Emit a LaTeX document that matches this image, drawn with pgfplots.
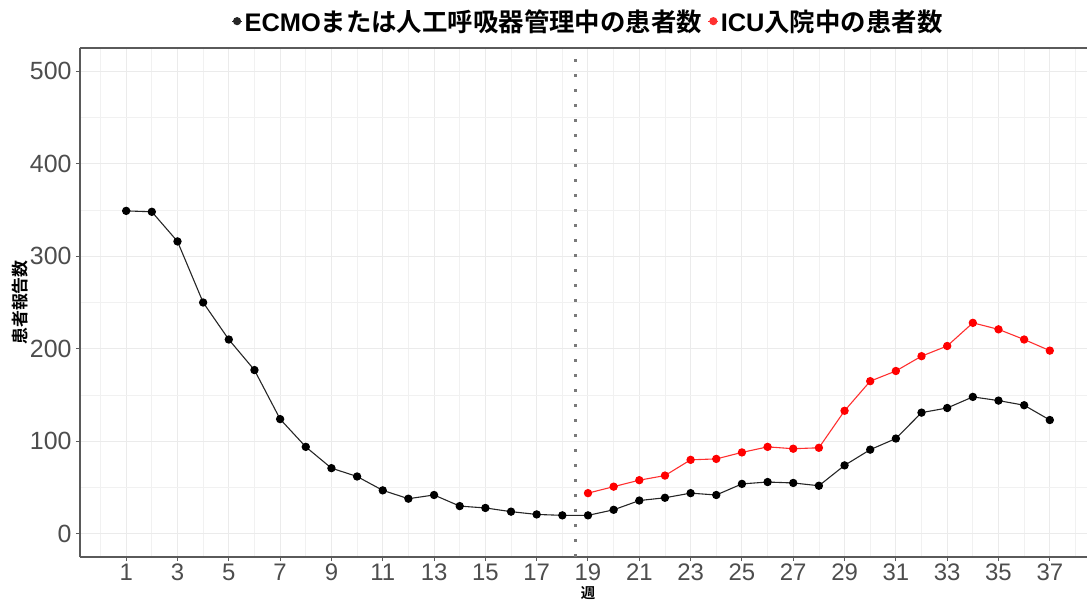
\documentclass[border=0pt]{standalone}
\usepackage{fontspec}
\setmainfont{Liberation Sans}
\newfontfamily\jpb{Noto Sans CJK JP Bold}
\usepackage{pgfplots}
\pgfplotsset{compat=1.18}
\definecolor{tickgrey}{HTML}{4D4D4D}
\definecolor{gridgrey}{HTML}{EBEBEB}
\definecolor{axisgrey}{HTML}{5A5A5A}
\definecolor{vgrey}{HTML}{7A7A7A}
\definecolor{lred}{HTML}{FF3030}
\begin{document}
\begin{tikzpicture}
\useasboundingbox (-80bp,-43bp) rectangle (1007bp,557bp);
\begin{axis}[
  at={(0,0)}, anchor=south west, scale only axis,
  width=1016bp, height=509bp,
  xmin=-0.8, xmax=38.8, ymin=-25, ymax=525,
  axis x line*=box, axis y line*=left,
  axis line style={axisgrey, line width=1.2bp},
  xtick={1,3,...,37}, minor xtick={0,2,...,38},
  ytick={0,100,...,500}, minor ytick={50,150,...,450},
  xtick pos=bottom, ytick pos=left,
  tick align=outside, major tick length=4bp, minor tick length=0bp,
  tick style={axisgrey, line width=1bp},
  grid=both,
  major grid style={gridgrey, line width=1bp},
  minor grid style={gridgrey!70, line width=0.7bp},
  tick label style={font=\fontsize{25}{25}\selectfont, color=tickgrey},
  /pgf/number format/assume math mode=true,
  xticklabel style={inner sep=0.5bp, text depth=0bp, yshift=-2.5bp, font=\fontsize{24}{24}\selectfont},
  yticklabel style={xshift=-1bp},
  xlabel={\jpb 週},
  ylabel={\jpb 患者報告数},
  label style={font=\fontsize{17}{17}\selectfont},
  xlabel style={at={(axis description cs:0.5,0)}, anchor=center, inner sep=0bp, yshift=-36bp, font=\fontsize{14.5}{14.5}\selectfont},
  ylabel style={at={(axis description cs:0,0.5)}, anchor=center, yshift=60bp},
  legend style={at={(0.5,1)}, anchor=south, yshift=13bp, draw=none, fill=none,
    legend columns=2, font=\fontsize{25.5}{25.5}\selectfont,
    /tikz/every even column/.append style={column sep=4bp},
    inner sep=0bp},
  legend cell align=left,
  legend image code/.code={\draw[#1, line width=1bp] (0bp,0bp) -- (10bp,0bp); \fill[#1] (5bp,0bp) circle (3.5bp);},
]
\addplot[vgrey, line width=3bp, dash pattern=on 3bp off 12bp, forget plot] coordinates {(18.5,-25) (18.5,525)};
\addplot[black!85, line width=1.1bp, mark=*, mark size=3.6bp, mark options={fill=black, draw=black, solid}] coordinates {
(1,349) (2,348) (3,316) (4,250) (5,210) (6,177) (7,124) (8,94) (9,71) (10,62)
(11,47) (12,38) (13,42) (14,30) (15,28) (16,24) (17,21) (18,20) (19,20) (20,26)
(21,36) (22,39) (23,44) (24,42) (25,54) (26,56) (27,55) (28,52) (29,74) (30,91)
(31,103) (32,131) (33,136) (34,148) (35,144) (36,139) (37,123)};
\addlegendentry{{\bfseries ECMO}{\jpb または人工呼吸器管理中の患者数}}
\addplot[lred, line width=1.1bp, mark=*, mark size=3.6bp, mark options={fill=red, draw=red, solid}] coordinates {
(19,44) (20,51) (21,58) (22,63) (23,80) (24,81) (25,88) (26,94) (27,92) (28,93)
(29,133) (30,165) (31,176) (32,192) (33,203) (34,228) (35,221) (36,210) (37,198)};
\addlegendentry{{\bfseries ICU}{\jpb 入院中の患者数}}
\end{axis}
\end{tikzpicture}
\end{document}
